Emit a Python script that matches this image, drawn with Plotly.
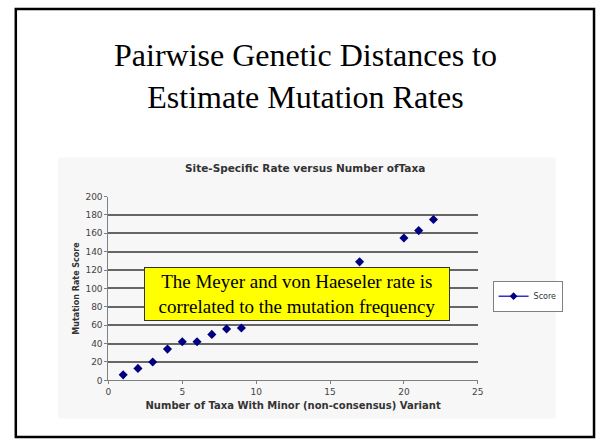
import plotly.graph_objects as go

W, H = 602, 444

# data
taxa = [1, 2, 3, 4, 5, 6, 7, 8, 9, 17, 20, 21, 22]
score = [6, 13, 20, 34, 42, 42, 50, 56, 57, 129, 155, 163, 175]
x_ticks = [0, 5, 10, 15, 20, 25]
y_ticks = [0, 20, 40, 60, 80, 100, 120, 140, 160, 180, 200]

NAVY = '#000080'
SERIF = 'Liberation Serif, Times New Roman, serif'
SANS = 'DejaVu Sans, Verdana, sans-serif'


def px(x):
    return x / W


def py(y):
    return 1 - y / H


fig = go.Figure()
fig.add_trace(go.Scatter(x=taxa, y=score, mode='markers', showlegend=False,
                         marker=dict(symbol='diamond', size=7, color=NAVY)))
# legend entry only
fig.add_trace(go.Scatter(x=[None], y=[None], mode='lines+markers', name='Score',
                         line=dict(color='#3333cc', width=1.5),
                         marker=dict(symbol='diamond', size=6, color=NAVY)))

axis_font = dict(family=SANS, size=9, color='#444444')

fig.update_layout(
    width=W, height=H,
    margin=dict(l=0, r=0, t=0, b=0),
    paper_bgcolor='white',
    plot_bgcolor='#c0c0c0',
    xaxis=dict(domain=[px(107), px(482)], range=[0, 25], tickvals=x_ticks,
               showgrid=False, zeroline=False, showline=True, linecolor='#808080',
               ticks='outside', ticklen=3, tickcolor='#808080', tickfont=axis_font,
               title=dict(text='<b>Number of Taxa With Minor (non-consensus) Variant</b>',
                          font=dict(family=SANS, size=10, color='#333333'), standoff=5)),
    yaxis=dict(domain=[py(384), py(196)], range=[0, 200], tickvals=y_ticks,
               showgrid=True, gridcolor='#666666', gridwidth=1.5,
               zeroline=False, showline=True, linecolor='#808080',
               ticks='outside', ticklen=3, tickcolor='#808080', tickfont=axis_font,
               title=dict(text='<b>Mutation Rate Score</b>',
                          font=dict(family=SANS, size=8, color='#333333'), standoff=4)),
    legend=dict(x=px(497), y=py(282), xanchor='left', yanchor='top',
                bgcolor='white', bordercolor='#808080', borderwidth=1,
                font=dict(family=SANS, size=8, color='#333333'),
                itemwidth=30, tracegroupgap=0),
    shapes=[
        # slide border
        dict(type='rect', xref='paper', yref='paper', x0=px(13), x1=px(600),
             y0=py(442), y1=py(4), line=dict(color='black', width=2.5), layer='below'),
        # chart area
        dict(type='rect', xref='paper', yref='paper', x0=px(56), x1=px(561),
             y0=py(423), y1=py(156), fillcolor='#f7f7f7', line=dict(width=0), layer='below'),
    ],
    annotations=[
        dict(text='Pairwise Genetic Distances to<br>Estimate Mutation Rates',
             xref='paper', yref='paper', x=px(307), y=py(73), xanchor='center', yanchor='middle',
             showarrow=False, font=dict(family=SERIF, size=32, color='black')),
        dict(text='<b>Site-Specific Rate versus Number ofTaxa</b>',
             xref='paper', yref='paper', x=px(307), y=py(167), xanchor='center', yanchor='middle',
             showarrow=False, font=dict(family=SANS, size=10.5, color='#333333')),
        dict(text='The Meyer and von Haeseler rate is<br>correlated to the mutation frequency',
             xref='paper', yref='paper', x=px(298), y=py(296), xanchor='center', yanchor='middle',
             width=300, height=48, align='center',
             showarrow=False, bgcolor='#ffff00', bordercolor='#333333', borderwidth=1, borderpad=2,
             font=dict(family=SERIF, size=19, color='black')),
    ],
)

fig.write_html('out.html', config={'displayModeBar': False},
               post_script="document.documentElement.style.margin='0';"
                           "document.body.style.margin='0';"
                           "document.body.style.overflow='hidden';")
